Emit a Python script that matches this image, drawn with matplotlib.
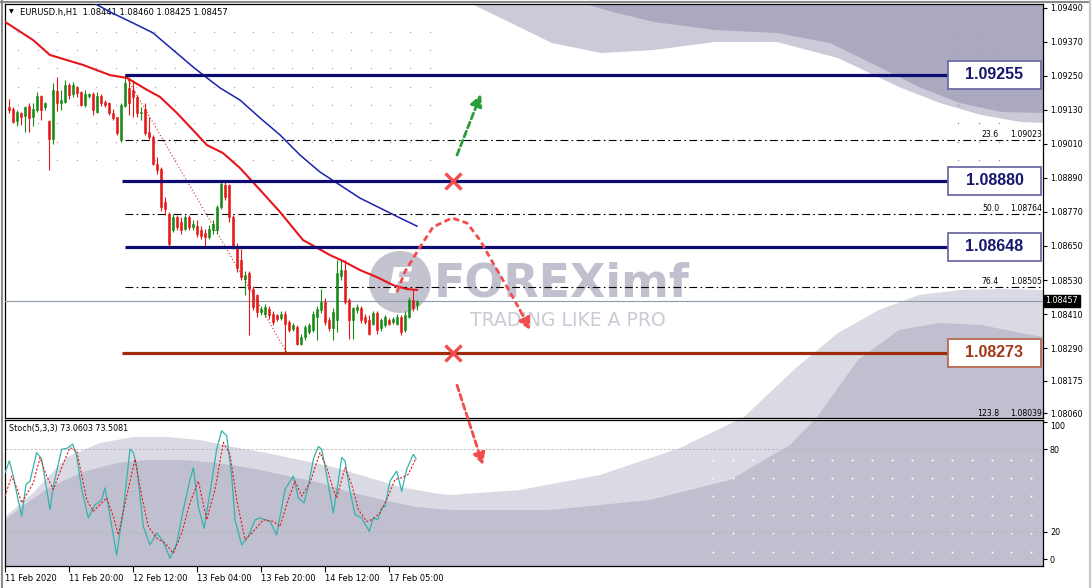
import numpy as np
import matplotlib
matplotlib.use('Agg')
from matplotlib import pyplot as plt
from matplotlib.patches import Rectangle, Polygon, Circle
from matplotlib.transforms import blended_transform_factory

plt.rcParams['font.family'] = ['DejaVu Sans']

# H1 candles, EURUSD (open, high, low, close)
bar_open = [1.09139, 1.09132, 1.09092, 1.09120, 1.09108, 1.09144, 1.09106, 1.09129, 1.09179, 1.09141,
            1.09092, 1.09029, 1.09198, 1.09155, 1.09159, 1.09218, 1.09186, 1.09212, 1.09194, 1.09147,
            1.09179, 1.09188, 1.09124, 1.09179, 1.09159, 1.09153, 1.09120, 1.09106, 1.09023, 1.09144,
            1.09206, 1.09200, 1.09177, 1.09118, 1.09135, 1.09053, 1.09035, 1.08941, 1.08923, 1.08805,
            1.08764, 1.08705, 1.08752, 1.08734, 1.08711, 1.08752, 1.08716, 1.08722, 1.08707, 1.08695,
            1.08681, 1.08705, 1.08705, 1.08787, 1.08864, 1.08864, 1.08752, 1.08646, 1.08600, 1.08535,
            1.08553, 1.08500, 1.08476, 1.08417, 1.08411, 1.08429, 1.08411, 1.08405, 1.08397, 1.08411,
            1.08382, 1.08358, 1.08364, 1.08305, 1.08329, 1.08347, 1.08352, 1.08400, 1.08424, 1.08453,
            1.08388, 1.08359, 1.08388, 1.08545, 1.08565, 1.08459, 1.08388, 1.08424, 1.08430, 1.08400,
            1.08388, 1.08376, 1.08412, 1.08359, 1.08370, 1.08388, 1.08382, 1.08376, 1.08400, 1.08353,
            1.08400, 1.08459, 1.08441]
bar_high = [1.09167, 1.09139, 1.09129, 1.09124, 1.09144, 1.09153, 1.09153, 1.09194, 1.09183, 1.09159,
            1.09094, 1.09224, 1.09247, 1.09200, 1.09236, 1.09226, 1.09230, 1.09214, 1.09198, 1.09200,
            1.09191, 1.09194, 1.09194, 1.09188, 1.09165, 1.09159, 1.09135, 1.09106, 1.09153, 1.09255,
            1.09245, 1.09236, 1.09183, 1.09141, 1.09153, 1.09106, 1.09041, 1.08964, 1.08929, 1.08823,
            1.08770, 1.08764, 1.08758, 1.08752, 1.08758, 1.08758, 1.08740, 1.08740, 1.08720, 1.08710,
            1.08725, 1.08740, 1.08793, 1.08882, 1.08876, 1.08870, 1.08758, 1.08660, 1.08640, 1.08560,
            1.08560, 1.08510, 1.08482, 1.08440, 1.08445, 1.08440, 1.08420, 1.08410, 1.08420, 1.08420,
            1.08390, 1.08380, 1.08370, 1.08340, 1.08370, 1.08380, 1.08420, 1.08440, 1.08500, 1.08465,
            1.08400, 1.08430, 1.08601, 1.08601, 1.08601, 1.08465, 1.08435, 1.08445, 1.08440, 1.08410,
            1.08405, 1.08420, 1.08420, 1.08395, 1.08405, 1.08395, 1.08400, 1.08410, 1.08405, 1.08420,
            1.08470, 1.08500, 1.08460]
bar_low = [1.09118, 1.09085, 1.09073, 1.09076, 1.09053, 1.09053, 1.09073, 1.09124, 1.09094, 1.09129,
           1.08917, 1.09011, 1.09127, 1.09129, 1.09153, 1.09167, 1.09177, 1.09177, 1.09144, 1.09141,
           1.09174, 1.09112, 1.09118, 1.09144, 1.09141, 1.09112, 1.09094, 1.09041, 1.09017, 1.09141,
           1.09112, 1.09106, 1.09106, 1.09094, 1.09041, 1.09023, 1.08935, 1.08905, 1.08775, 1.08758,
           1.08651, 1.08699, 1.08705, 1.08693, 1.08705, 1.08705, 1.08705, 1.08681, 1.08675, 1.08651,
           1.08675, 1.08693, 1.08693, 1.08781, 1.08811, 1.08734, 1.08640, 1.08559, 1.08530, 1.08476,
           1.08335, 1.08425, 1.08400, 1.08405, 1.08400, 1.08394, 1.08370, 1.08385, 1.08388, 1.08273,
           1.08345, 1.08350, 1.08300, 1.08300, 1.08320, 1.08340, 1.08345, 1.08317, 1.08412, 1.08370,
           1.08350, 1.08317, 1.08347, 1.08530, 1.08447, 1.08323, 1.08323, 1.08415, 1.08380, 1.08375,
           1.08335, 1.08370, 1.08341, 1.08350, 1.08365, 1.08370, 1.08376, 1.08370, 1.08335, 1.08345,
           1.08395, 1.08420, 1.08425]
bar_close = [1.09129, 1.09088, 1.09124, 1.09106, 1.09141, 1.09103, 1.09135, 1.09179, 1.09129, 1.09153,
             1.09029, 1.09200, 1.09153, 1.09165, 1.09218, 1.09183, 1.09218, 1.09191, 1.09147, 1.09186,
             1.09188, 1.09129, 1.09179, 1.09153, 1.09147, 1.09118, 1.09100, 1.09049, 1.09147, 1.09225,
             1.09153, 1.09177, 1.09118, 1.09124, 1.09047, 1.09035, 1.08941, 1.08917, 1.08787, 1.08781,
             1.08657, 1.08752, 1.08716, 1.08705, 1.08752, 1.08716, 1.08728, 1.08693, 1.08687, 1.08681,
             1.08711, 1.08728, 1.08787, 1.08870, 1.08823, 1.08752, 1.08646, 1.08571, 1.08541, 1.08547,
             1.08500, 1.08435, 1.08417, 1.08429, 1.08435, 1.08405, 1.08382, 1.08394, 1.08411, 1.08376,
             1.08355, 1.08370, 1.08305, 1.08329, 1.08364, 1.08370, 1.08411, 1.08429, 1.08453, 1.08382,
             1.08359, 1.08418, 1.08553, 1.08565, 1.08453, 1.08388, 1.08430, 1.08435, 1.08388, 1.08382,
             1.08341, 1.08412, 1.08353, 1.08388, 1.08400, 1.08376, 1.08394, 1.08400, 1.08347, 1.08406,
             1.08459, 1.08430, 1.08457]

# moving averages (bar index, price)
ma_red_x = [-1, 6, 10.25, 18.5, 25.25, 29.5, 34.5, 37.75, 42, 46, 49.5, 53.5, 57.75, 62.75, 67.75,
            73.5, 80.25, 83.5, 87.75, 92, 96, 99.5, 102]
ma_red_y = [1.09441, 1.09377, 1.09324, 1.09289, 1.09253, 1.09243, 1.09201, 1.09176, 1.09119, 1.09059,
            1.09006, 1.08978, 1.08925, 1.08848, 1.08770, 1.08671, 1.08618, 1.08597, 1.08565, 1.08540,
            1.08512, 1.08498, 1.08495]
ma_blue_x = [19, 25.25, 31, 36, 41, 46, 49.5, 52.75, 57.75, 62.75, 67.75, 72.75, 77.75, 82.75, 87.75,
             92.75, 97.75, 102]
ma_blue_y = [1.09525, 1.09476, 1.09437, 1.09402, 1.09342, 1.09282, 1.09243, 1.09208, 1.09165, 1.09102,
             1.09042, 1.08971, 1.08911, 1.08865, 1.08819, 1.08784, 1.08749, 1.08720]

# stochastic (5,3,3)
stoch_k_x = [-1, 0.08, 1.08, 2.08, 3.17, 4.25, 5.25, 6.92, 8.17, 10.25, 11.08, 13.17, 14.42, 15.92,
             16.92, 18.17, 19.83, 21.5, 22.33, 23.17, 24, 24.83, 26.92, 28.58, 30.25, 31.08, 31.92,
             33.58, 35.25, 36.92, 38.58, 40.25, 41.92, 43.58, 45.25, 46.08, 47.33, 48.75, 50.25, 51.92,
             53.17, 54.42, 55.67, 56.5, 58.17, 59.83, 61.5, 62.75, 65.25, 66.92, 69, 71.08, 72.33,
             73.75, 74.83, 76.08, 77.33, 78.17, 79, 81.08, 82.33, 83.17, 84, 85.25, 86.5, 88.17,
             90.08, 91.08, 92.17, 93.17, 94, 95.25, 96.92, 98.17, 99.42, 101.08, 101.75]
stoch_k = [62.9, 71.5, 60.4, 45.8, 31.1, 54.3, 56.8, 77.6, 72.7, 36.0, 53.1, 80.0, 80.5, 83.7,
           75.1, 50.7, 29.9, 39.6, 40.9, 43.3, 51.9, 38.4, 2.9, 36.0, 80.0, 77.6, 67.8,
           23.7, 10.3, 18.9, 12.8, 0.5, 11.5, 36.0, 58.0, 66.6, 38.4, 22.5, 48.2, 80.0,
           93.5, 89.8, 60.4, 28.6, 10.3, 16.4, 28.6, 29.9, 27.4, 17.6, 50.7, 60.4, 44.5,
           40.9, 53.1, 72.7, 82.0, 80.0, 67.8, 33.5, 56.8, 73.9, 71.5, 49.4, 32.3, 29.9,
           20.1, 29.9, 28.6, 37.2, 38.4, 56.8, 64.1, 49.4, 65.4, 76.3, 73.06]
stoch_d_x = [-1, 0.67, 1.92, 3.17, 4.42, 6.08, 7.75, 9.42, 11.08, 13.17, 15.25, 16.92, 19.42, 21.08,
             22.75, 24.42, 26.08, 27.33, 29.42, 31.5, 33.17, 34.83, 36.92, 39, 41.08, 43.17, 45.25,
             47.33, 49.42, 51.5, 53.58, 55.25, 56.92, 59, 61.08, 63.58, 66.08, 67.75, 69.83, 71.5,
             73.17, 75.25, 77.75, 79.42, 81.08, 81.92, 84, 85.67, 87.33, 89.42, 90.67, 92.75, 94.83,
             96.5, 98.17, 99.83, 101.75]
stoch_d = [45.8, 60.4, 51.9, 40.9, 47.0, 55.6, 73.9, 60.4, 50.7, 66.6, 81.2, 78.8, 43.3, 34.8,
           39.6, 44.5, 31.1, 17.6, 45.8, 72.7, 45.8, 23.7, 15.2, 11.5, 4.2, 18.9, 40.9,
           56.8, 28.6, 50.7, 84.9, 76.3, 43.3, 14.0, 20.1, 28.6, 27.4, 23.7, 43.3, 56.8,
           45.8, 55.6, 77.6, 66.6, 50.7, 44.5, 66.6, 54.3, 36.0, 27.4, 28.6, 33.5, 45.8,
           58.0, 59.2, 61.7, 73.51]

# drawn levels and fibonacci retracement
levels = [1.09255, 1.08880, 1.08648, 1.08273]
level_start = [29, 28.25, 29, 28.25]
level_kind = ['res', 'res', 'res', 'sup']
fibo_pct = ['23.6', '50.0', '76.4', '123.8']
fibo_price = [1.09023, 1.08764, 1.08505, 1.08039]
fibo_trend_x = [29, 69.5]
fibo_trend_y = [1.09255, 1.08273]
last_price = 1.08457

price_ticks = [1.09490, 1.09370, 1.09250, 1.09130, 1.09010, 1.08890, 1.08770, 1.08650,
               1.08530, 1.08410, 1.08290, 1.08175, 1.08060]
time_ticks = [-1, 15, 31, 47, 63, 79, 95]
time_labels = ['11 Feb 2020', '11 Feb 20:00', '12 Feb 12:00', '13 Feb 04:00',
               '13 Feb 20:00', '14 Feb 12:00', '17 Feb 05:00']

# forecast sketch (bar index, price)
green_arrow = [(112, 1.08971), (118, 1.09186)]
cross_marks = [(111, 1.08880), (111, 1.08273)]
curve_x = [97, 99, 102.75, 106, 110.75, 114.5, 117.75, 121, 124.5, 127.75, 130.25]
curve_y = [1.08487, 1.08560, 1.08646, 1.08717, 1.08749, 1.08731, 1.08671, 1.08590, 1.08505, 1.08424, 1.08353]
red_arrow = [(112, 1.08159), (118.5, 1.07877)]

W, H = 1092, 588
NAVY = '#0c0c72'
RED_LVL = '#9e2c0c'
DRAW_RED = '#f24c4c'


def frac(x0, y0, x1, y1):
    return [x0 / W, 1 - y1 / H, (x1 - x0) / W, (y1 - y0) / H]


fig = plt.figure(figsize=(W / 100, H / 100), dpi=100)

# background picture layer, in pixels
bg = fig.add_axes([0, 0, 1, 1], zorder=0)
bg.set_xlim(0, W)
bg.set_ylim(H, 0)
bg.axis('off')

top_light = [(470, 4), (1043, 4), (1043, 123), (1021, 122), (981, 115), (940, 103), (899, 87),
             (838, 58), (777, 42), (715, 42), (654, 50), (601, 53), (552, 43), (511, 23), (474, 5)]
top_dark = [(585, 4), (1043, 4), (1043, 113), (1001, 112), (960, 103), (919, 87), (879, 67),
            (830, 43), (777, 33), (715, 30), (654, 22), (613, 12)]
bot_light = [(5, 517), (33, 493), (67, 457), (100, 443), (133, 437), (167, 437), (200, 440),
             (233, 447), (267, 453), (300, 460), (333, 467), (367, 477), (400, 487), (433, 493),
             (450, 495), (520, 490), (600, 475), (680, 448), (744, 417), (797, 367), (838, 333),
             (879, 310), (919, 295), (960, 290), (1001, 289), (1043, 290), (1043, 566), (5, 566)]
bot_dark = [(5, 520), (27, 503), (50, 487), (83, 472), (117, 463), (150, 460), (183, 460),
            (217, 463), (250, 468), (283, 475), (317, 482), (350, 492), (383, 500), (417, 507),
            (450, 510), (550, 510), (650, 500), (730, 480), (790, 445), (817, 417), (858, 360),
            (899, 330), (940, 323), (981, 325), (1021, 333), (1043, 337), (1043, 566), (5, 566)]
bg.add_patch(Polygon(top_light, closed=True, fc='#cbcad9', ec='none'))
bg.add_patch(Polygon(top_dark, closed=True, fc='#aaa9c0', ec='none'))
bg.add_patch(Polygon(bot_light, closed=True, fc='#dadae4', ec='none'))
bg.add_patch(Polygon(bot_dark, closed=True, fc='#c0bfd0', ec='none'))
bg.add_patch(Rectangle((5, 418), 1038, 2, fc='white', ec='none'))

# dotted grid pieces of the background
gx, gy = np.meshgrid(np.arange(18, 431, 19.6), [32, 50, 68, 87, 105, 123, 142, 160])
bg.scatter(gx.ravel(), gy.ravel(), s=1.2, c='#b8b8b8', lw=0)
gx, gy = np.meshgrid([958, 979, 999], [32, 50, 105, 123, 142, 160])
bg.scatter(gx.ravel(), gy.ravel(), s=1.2, c='#9897ae', lw=0)
gx, gy = np.meshgrid(np.arange(713, 1035, 19.9), [460, 478, 496, 515, 533, 552])
bg.scatter(gx.ravel(), gy.ravel(), s=2, c='white', lw=0)

# watermark
bg.add_patch(Circle((400, 282), 31, fc='#c4c4d0', ec='none'))
bg.text(400, 283, 'F', color='white', fontsize=26, fontweight='bold', style='italic',
        ha='center', va='center')
bg.text(434, 284, 'FOREXimf', color='#c0c0ce', fontsize=33, fontweight='bold', va='center', ha='left')
bg.text(470, 321, 'TRADING LIKE A PRO', color='#cacad4', fontsize=13.5, va='center', ha='left')

# window frame
bg.plot([2, 2], [0, H], color='#8a8a8a', lw=1.5)
bg.plot([0, 1090], [1.5, 1.5], color='#8a8a8a', lw=1.5)
bg.plot([1090, 1090], [0, H], color='#c8c8c8', lw=1.5)

# ---- price panel ----
ax = fig.add_axes(frac(5, 4, 1043, 418), zorder=1)
ax.set_facecolor('none')
ax.set_xlim(-1, 258.5)
ax.set_ylim(1.08043, 1.09504)

o = np.array(bar_open)
h = np.array(bar_high)
l = np.array(bar_low)
c = np.array(bar_close)
idx = np.arange(len(o))
col = np.where(c >= o, '#158a15', '#e51616')
ax.vlines(idx, l, h, colors=col, lw=0.8, zorder=4)
ax.bar(idx, np.maximum(np.abs(c - o), 0.00002), bottom=np.minimum(o, c), width=0.72,
       color=col, edgecolor=col, lw=0.4, zorder=5)

ax.plot(ma_red_x, ma_red_y, color='#e8141c', lw=1.5, zorder=6)
ax.plot(ma_blue_x, ma_blue_y, color='#1a22ae', lw=1.1, zorder=6)

ax.axhline(last_price, color='#8c9aac', lw=0.8, zorder=3)

# fibonacci
for pct, fp in zip(fibo_pct, fibo_price):
    ax.plot([29, 258.5], [fp, fp], color='black', lw=0.8, dashes=(7, 3, 1.5, 3), zorder=3)
    ax.text(258.2, fp + 0.00003, '%.5f' % fp, fontsize=5.6, ha='right', va='bottom', zorder=3)
    ax.text(247.5, fp + 0.00003, pct, fontsize=5.6, ha='right', va='bottom', zorder=3)
ax.plot(fibo_trend_x, fibo_trend_y, color='#d03030', lw=0.8, ls=(0, (1, 2)), zorder=3)

# support / resistance boxes
box_l, box_r = 234.75, 258
box_h = 0.00099
for lvl, x0, kind in zip(levels, level_start, level_kind):
    lc = NAVY if kind == 'res' else RED_LVL
    ec = '#6c6ca6' if kind == 'res' else '#b86a50'
    tc = '#17176e' if kind == 'res' else '#a3391a'
    ax.plot([x0, box_l], [lvl, lvl], color=lc, lw=2.3, solid_capstyle='butt', zorder=7)
    ax.add_patch(Rectangle((box_l, lvl - box_h / 2), box_r - box_l, box_h, fc='white', ec=ec,
                           lw=1.3, zorder=8))
    ax.text((box_l + box_r) / 2, lvl, '%.5f' % lvl, color=tc, fontsize=11.5, fontweight='bold',
            family='Liberation Sans', ha='center', va='center', zorder=9)

# forecast sketch
ax.annotate('', xy=green_arrow[1], xytext=green_arrow[0], zorder=9,
            arrowprops=dict(arrowstyle='-|>,head_length=0.7,head_width=0.35', color='#2a9c38',
                            lw=2, linestyle=(0, (2.2, 1.3)), shrinkA=0, shrinkB=0))
for cx, cy in cross_marks:
    ax.plot(cx, cy, marker='x', ms=12, mew=2.4, color=DRAW_RED, zorder=9)
ax.plot(curve_x[:-1], curve_y[:-1], color=DRAW_RED, lw=2, ls=(0, (2.2, 1.3)), zorder=9)
ax.annotate('', xy=(curve_x[-1], curve_y[-1]), xytext=(curve_x[-2], curve_y[-2]), zorder=9,
            arrowprops=dict(arrowstyle='-|>,head_length=0.7,head_width=0.35', color=DRAW_RED,
                            lw=2, linestyle=(0, (2.2, 1.3)), shrinkA=0, shrinkB=0))
ax.annotate('', xy=red_arrow[1], xytext=red_arrow[0], zorder=9, annotation_clip=False,
            arrowprops=dict(arrowstyle='-|>,head_length=0.7,head_width=0.35', color=DRAW_RED,
                            lw=2, linestyle=(0, (2.2, 1.3)), shrinkA=0, shrinkB=0))

ax.set_xticks([])
ax.yaxis.tick_right()
ax.set_yticks(price_ticks)
ax.set_yticklabels(['%.5f' % t for t in price_ticks])
ax.tick_params(axis='y', length=3, width=0.8, labelsize=5.8, pad=2)
for sp in ax.spines.values():
    sp.set_linewidth(0.9)

trans = blended_transform_factory(ax.transAxes, ax.transData)
ax.text(1.0025, last_price, '%.5f' % last_price, transform=trans, color='white', fontsize=5.8,
        ha='left', va='center', zorder=10,
        bbox=dict(boxstyle='square,pad=0.2', fc='black', ec='black'))

# ---- stochastic panel ----
ax2 = fig.add_axes(frac(5, 420, 1043, 566), zorder=1)
ax2.set_facecolor('none')
ax2.set_xlim(-1, 258.5)
ax2.set_ylim(-5.1, 101.3)
ax2.axhline(80, color='#b4b4b4', lw=0.6, ls=(0, (3, 2)))
ax2.axhline(20, color='#b4b4b4', lw=0.6, ls=(0, (3, 2)))
ax2.plot(stoch_k_x, stoch_k, color='#36b2ac', lw=0.9, zorder=4)
ax2.plot(stoch_d_x, stoch_d, color='#e01e1e', lw=0.8, ls=(0, (2, 1.5)), zorder=4)
ax2.yaxis.tick_right()
ax2.set_yticks([0, 20, 80, 100])
ax2.set_yticklabels(['0', '20', '80', '100'])
ax2.tick_params(axis='y', length=3, width=0.8, labelsize=5.8, pad=2)
ax2.get_yticklabels()[-1].set_verticalalignment('top')
ax2.set_xticks(time_ticks)
ax2.set_xticklabels(time_labels, ha='left')
ax2.tick_params(axis='x', length=4, width=0.8, labelsize=6, pad=2)
for sp in ax2.spines.values():
    sp.set_linewidth(0.9)

# chart headers
bg.text(9, 12, '\u25bc', fontsize=4.5, va='center', ha='left', zorder=5)
bg.text(20, 12, 'EURUSD.h,H1  1.08441 1.08460 1.08425 1.08457', fontsize=6, va='center', ha='left')
bg.text(9, 428, 'Stoch(5,3,3) 73.0603 73.5081', fontsize=5.8, va='center', ha='left')

fig.savefig('out.png', dpi=100)
